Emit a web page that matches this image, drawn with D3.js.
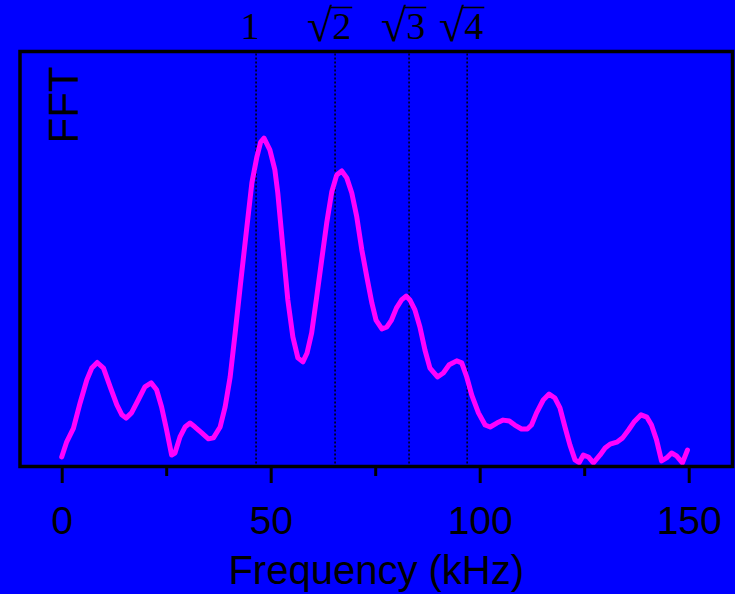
<!DOCTYPE html>
<html>
<head>
<meta charset="utf-8">
<script src="https://cdn.jsdelivr.net/npm/d3@7"></script>
<style>
  html, body { margin: 0; padding: 0; background: #0000ff; }
  svg { display: block; }
</style>
</head>
<body>
<svg id="chart" width="735" height="594"></svg>
<script>
// FFT spectrum (kHz, arbitrary amplitude)
var freq = [0, 1.2, 2.8, 4.4, 6.0, 7.2, 8.5, 10.0, 11.6, 13.2, 14.4, 15.4, 16.7, 18.3, 19.9, 21.4,
  22.7, 23.9, 25.1, 26.3, 27.1, 28.3, 29.5, 30.7, 31.9, 33.5, 35.1, 36.3, 37.9, 39.1, 40.3, 41.5,
  42.7, 44.3, 45.5, 46.7, 47.6, 48.4, 49.8, 51.0, 51.7, 52.9, 54.1, 55.3, 56.5, 57.7, 58.7, 59.8,
  61.0, 62.2, 63.4, 64.6, 65.8, 67.0, 68.2, 69.4, 70.6, 71.8, 73.0, 74.2, 75.2, 76.6, 77.8, 78.9,
  80.1, 81.3, 82.4, 83.3, 84.5, 85.7, 86.9, 88.1, 89.9, 91.3, 92.7, 94.5, 95.7, 96.9, 98.1, 99.7,
  101.3, 102.5, 104.1, 105.6, 107.1, 108.4, 110.0, 111.4, 112.4, 113.6, 115.2, 116.6, 118.0, 119.2,
  120.4, 121.6, 122.8, 123.8, 124.8, 126.0, 127.2, 128.8, 130.0, 131.2, 132.8, 134.2, 135.6, 136.9,
  138.6, 140.0, 141.1, 142.3, 143.5, 144.7, 145.9, 147.1, 148.5, 149.7];
var amp = [2.9, 7.5, 11.6, 19.3, 26.3, 29.9, 31.6, 29.9, 24.2, 18.7, 15.7, 14.7, 16.3, 20.2, 24.2, 25.4,
  23.3, 18.1, 11.1, 3.5, 4.1, 9.0, 12.0, 13.2, 12.0, 10.2, 8.4, 8.7, 12.0, 18.1, 27.2, 40.6,
  54.6, 72.8, 86.2, 94.1, 98.6, 99.8, 96.2, 90.1, 83.1, 66.7, 50.6, 39.4, 33.0, 31.8, 34.5, 40.6,
  51.5, 62.8, 74.0, 83.4, 88.6, 89.8, 87.7, 83.1, 75.8, 65.8, 57.6, 49.7, 44.5, 41.8, 42.4, 44.5,
  48.2, 50.6, 51.8, 50.6, 47.6, 42.4, 35.4, 29.9, 27.2, 28.4, 30.9, 32.1, 31.5, 27.2, 21.7, 16.3,
  12.6, 12.0, 13.2, 14.1, 13.8, 12.6, 11.4, 11.4, 12.6, 16.3, 20.2, 22.0, 20.8, 17.8,
  12.0, 6.5, 2.0, 1.2, 3.5, 2.9, 1.1, 3.5, 5.6, 6.8, 7.4, 8.7, 11.1, 13.5,
  15.7, 15.0, 12.6, 8.1, 1.7, 2.6, 4.1, 3.2, 1.1, 5.0];

// marker lines and their labels
var markerFreq = [46.5, 65.4, 83.1, 97.0];
var markerLabel = ["1", "2", "3", "4"];
var markerRoot = [false, true, true, true];

var majorTicks = [0, 50, 100, 150];
var minorTicks = [25, 75, 125];

var svg = d3.select("#chart");

// plot frame (don't call these top/left: window.top is read-only)
var fLeft = 20, fRight = 732.5, fTop = 51.5, fBottom = 466.5;

var x = d3.scaleLinear().domain([0, 150]).range([61.7, 688.7]);
var y = d3.scaleLinear().domain([0, 126.1]).range([fBottom, fTop]);

svg.append("rect")
  .attr("width", 735).attr("height", 594)
  .attr("fill", "#0000ff");

// dotted marker lines
svg.selectAll(".marker")
  .data(markerFreq)
  .enter().append("line")
  .attr("class", "marker")
  .attr("x1", function(d) { return x(d); })
  .attr("x2", function(d) { return x(d); })
  .attr("y1", fTop + 2)
  .attr("y2", fBottom - 1)
  .attr("stroke", "#000")
  .attr("stroke-width", 1.5)
  .attr("stroke-dasharray", "2,2");

// the spectrum
var pts = freq.map(function(f, i) { return [f, amp[i]]; });
var line = d3.line()
  .x(function(d) { return x(d[0]); })
  .y(function(d) { return y(d[1]); });

svg.append("path")
  .datum(pts)
  .attr("d", line)
  .attr("fill", "none")
  .attr("stroke", "#ff00ff")
  .attr("stroke-width", 5)
  .attr("stroke-linejoin", "round")
  .attr("stroke-linecap", "round");

// frame
svg.append("rect")
  .attr("x", fLeft).attr("y", fTop)
  .attr("width", fRight - fLeft).attr("height", fBottom - fTop)
  .attr("fill", "none")
  .attr("stroke", "#000")
  .attr("stroke-width", 3.5);

// x axis ticks
var axisG = svg.append("g").attr("transform", "translate(0," + (fBottom + 1.5) + ")");
axisG.call(d3.axisBottom(x).tickValues(majorTicks).tickSize(15).tickFormat(d3.format("d")));
axisG.select(".domain").remove();
axisG.selectAll(".tick line").attr("stroke", "#000").attr("stroke-width", 3);
axisG.selectAll(".tick text")
  .attr("y", 66).attr("dy", null)
  .attr("fill", "#000")
  .style("font-family", "'Liberation Sans', Arial, sans-serif")
  .style("font-size", "39px");

var minorG = svg.append("g").attr("transform", "translate(0," + (fBottom + 1.5) + ")");
minorG.call(d3.axisBottom(x).tickValues(minorTicks).tickSize(8).tickFormat(""));
minorG.select(".domain").remove();
minorG.selectAll(".tick line").attr("stroke", "#000").attr("stroke-width", 3);

// axis titles
svg.append("text")
  .attr("x", (fLeft + fRight) / 2)
  .attr("y", 584)
  .attr("text-anchor", "middle")
  .style("font-family", "'Liberation Sans', Arial, sans-serif")
  .style("font-size", "40px")
  .text("Frequency (kHz)");

svg.append("text")
  .attr("transform", "translate(78,105) rotate(-90)")
  .attr("text-anchor", "middle")
  .style("font-family", "'Liberation Sans', Arial, sans-serif")
  .style("font-size", "42px")
  .text("FFT");

// labels over marker lines: 1, sqrt2, sqrt3, sqrt4
var labelSize = 38, labelBase = 39;
markerFreq.forEach(function(f, i) {
  var t = svg.append("text")
    .attr("x", x(f) - 6)
    .attr("y", labelBase)
    .attr("text-anchor", "middle")
    .style("font-family", "'Liberation Serif', 'Times New Roman', serif")
    .style("font-size", labelSize + "px");
  if (markerRoot[i]) {
    t.append("tspan").style("font-size", "46px").attr("dy", 2).text("\u221A");
    t.append("tspan").attr("dy", -2).text(markerLabel[i]);
    var r = t.node().getExtentOfChar(0);
    var dgt = t.node().getExtentOfChar(1);
    svg.append("line")
      .attr("x1", r.x + r.width - 1.5)
      .attr("x2", dgt.x + dgt.width + 1)
      .attr("y1", labelBase - 31.5)
      .attr("y2", labelBase - 31.5)
      .attr("stroke", "#000")
      .attr("stroke-width", 1.6);
  } else {
    t.text(markerLabel[i]);
  }
});
</script>
</body>
</html>
